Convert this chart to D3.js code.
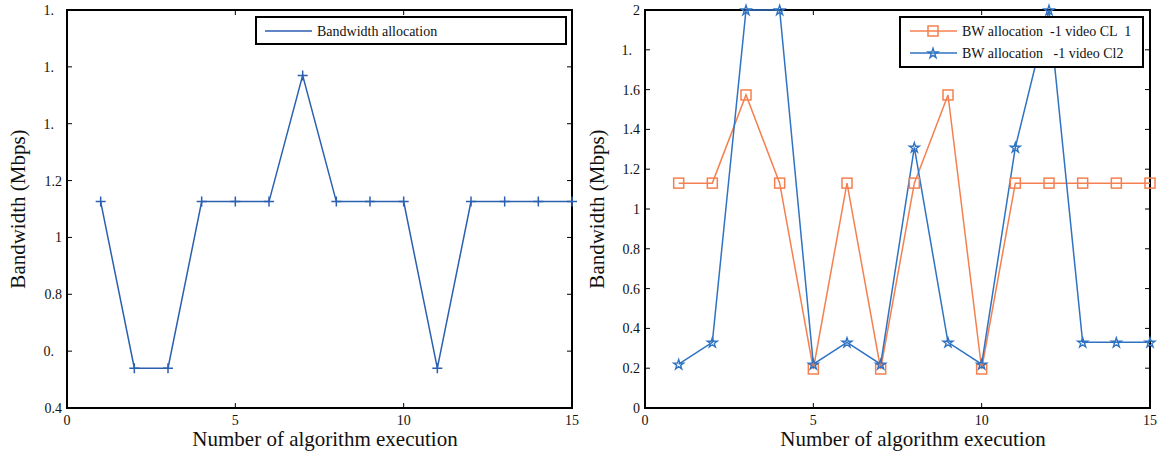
<!DOCTYPE html>
<html><head><meta charset="utf-8">
<script src="https://cdn.jsdelivr.net/npm/d3@7"></script>
<style>body{margin:0;background:#fff}</style>
</head><body><svg id="c" width="1160" height="458"></svg>
<script>
const xIdx = [1,2,3,4,5,6,7,8,9,10,11,12,13,14,15];
const leftValues = [1.126,0.54,0.54,1.126,1.126,1.126,1.57,1.126,1.126,1.126,0.54,1.126,1.126,1.126,1.126];
const cl1Values = [1.13,1.13,1.573,1.13,0.196,1.13,0.196,1.13,1.573,0.196,1.13,1.13,1.13,1.13,1.13];
const cl2Values = [0.22,0.33,2.0,2.0,0.22,0.33,0.22,1.31,0.33,0.22,1.31,2.0,0.33,0.33,0.33];
const xTicks = [0,5,10,15];
const leftYTicks = [0.4,0.6,0.8,1.0,1.2,1.4,1.6,1.8];
const leftYLabels = ["0.4","0.","0.8","1","1.2","1.","1.","1."];
const rightYTicks = [0,0.2,0.4,0.6,0.8,1.0,1.2,1.4,1.6,1.8,2.0];
const rightYLabels = ["0","0.2","0.4","0.6","0.8","1","1.2","1.4","1.6","1.","2"];
const xTitle = "Number of algorithm execution";
const yTitle = "Bandwidth (Mbps)";
const leftLegend = ["Bandwidth allocation"];
const rightLegend = ["BW allocation  -1 video CL  1","BW allocation   -1 video Cl2"];

const svg = d3.select("#c");
const FONT = "Times New Roman, Times, Liberation Serif, DejaVu Serif, Noto Serif, serif";
const blueL = "#2b5fb0", blueR = "#2f73c2", orange = "#f5804f";

function txt(g){return g.append("text").style("font-family",FONT).attr("fill","#111");}

function panel(x0,x1,y0,y1,ydom,yTicks,yLabels,titleX,titleCx){
  const g = svg.append("g");
  const x = d3.scaleLinear().domain([0,15]).range([x0,x1]);
  const y = d3.scaleLinear().domain(ydom).range([y1,y0]);
  const tl = 5;
  xTicks.forEach(t=>{
    g.append("line").attr("x1",x(t)).attr("x2",x(t)).attr("y1",y1).attr("y2",y1-tl).attr("stroke","#000");
    g.append("line").attr("x1",x(t)).attr("x2",x(t)).attr("y1",y0).attr("y2",y0+tl).attr("stroke","#000");
    txt(g).attr("x",x(t)).attr("y",y1+17).attr("text-anchor","middle").attr("font-size",14).text(t);
  });
  yTicks.forEach((t,i)=>{
    g.append("line").attr("x1",x0).attr("x2",x0+tl).attr("y1",y(t)).attr("y2",y(t)).attr("stroke","#000");
    g.append("line").attr("x1",x1).attr("x2",x1-tl).attr("y1",y(t)).attr("y2",y(t)).attr("stroke","#000");
    const lab = yLabels[i];
    const shift = lab.endsWith(".") ? -8 : 0;
    txt(g).attr("x",x0-5+shift).attr("y",y(t)+5).attr("text-anchor","end").attr("font-size",14).text(lab);
  });
  g.append("rect").attr("x",x0).attr("y",y0).attr("width",x1-x0).attr("height",y1-y0).attr("fill","none").attr("stroke","#000").attr("stroke-width",2);
  txt(g).attr("x",titleCx).attr("y",446).attr("text-anchor","middle").attr("font-size",21).text(xTitle);
  txt(g).attr("transform",`translate(${titleX},${(y0+y1)/2}) rotate(-90)`).attr("text-anchor","middle").attr("font-size",21).text(yTitle);
  return {g,x,y};
}

// Left panel
const L = panel(67,572,10,408,[0.4,1.8],leftYTicks,leftYLabels,25,325);
L.g.append("path").datum(leftValues).attr("fill","none").attr("stroke",blueL).attr("stroke-width",1.5)
  .attr("d",d3.line().x((d,i)=>L.x(xIdx[i])).y(d=>L.y(d)));
L.g.selectAll(".pl").data(leftValues).join("path").attr("fill","none").attr("stroke",blueL).attr("stroke-width",1.5)
  .attr("d",(d,i)=>{const cx=L.x(xIdx[i]),cy=L.y(d);return `M${cx-5},${cy}H${cx+5}M${cx},${cy-5}V${cy+5}`;});
L.g.append("rect").attr("x",256).attr("y",17).attr("width",310).attr("height",27).attr("fill","#fff").attr("stroke","#000").attr("stroke-width",2);
L.g.append("line").attr("x1",265).attr("x2",312).attr("y1",31).attr("y2",31).attr("stroke",blueL).attr("stroke-width",1.5);
txt(L.g).attr("x",317).attr("y",35.5).attr("font-size",14).text(leftLegend[0]);

// Right panel
const R = panel(645,1150,10,408,[0,2],rightYTicks,rightYLabels,604,913);
const lineR = d3.line().x((d,i)=>R.x(xIdx[i])).y(d=>R.y(d));
R.g.append("path").datum(cl1Values).attr("fill","none").attr("stroke",orange).attr("stroke-width",1.5).attr("d",lineR);
R.g.append("path").datum(cl2Values).attr("fill","none").attr("stroke",blueR).attr("stroke-width",1.5).attr("d",lineR);
const star = d3.symbol().type(d3.symbolStar).size(30);
function sq(g,cx,cy){g.append("rect").attr("x",cx-5).attr("y",cy-5).attr("width",10).attr("height",10).attr("fill","none").attr("stroke",orange).attr("stroke-width",1.5);}
function st(g,cx,cy){g.append("path").attr("d",star()).attr("transform",`translate(${cx},${cy+0.5})`).attr("fill","none").attr("stroke",blueR).attr("stroke-width",1.4);}
cl1Values.forEach((d,i)=>sq(R.g,R.x(xIdx[i]),R.y(d)));
cl2Values.forEach((d,i)=>st(R.g,R.x(xIdx[i]),R.y(d)));
R.g.append("rect").attr("x",900).attr("y",17).attr("width",243).attr("height",50).attr("fill","#fff").attr("stroke","#000").attr("stroke-width",2);
R.g.append("line").attr("x1",910).attr("x2",957).attr("y1",31).attr("y2",31).attr("stroke",orange).attr("stroke-width",1.5);
sq(R.g,933,31);
R.g.append("line").attr("x1",910).attr("x2",957).attr("y1",53).attr("y2",53).attr("stroke",blueR).attr("stroke-width",1.5);
st(R.g,933,53);
txt(R.g).attr("x",962).attr("y",35.5).attr("font-size",14).style("white-space","pre").text(rightLegend[0]);
txt(R.g).attr("x",962).attr("y",57.5).attr("font-size",14).style("white-space","pre").text(rightLegend[1]);
</script></body></html>
